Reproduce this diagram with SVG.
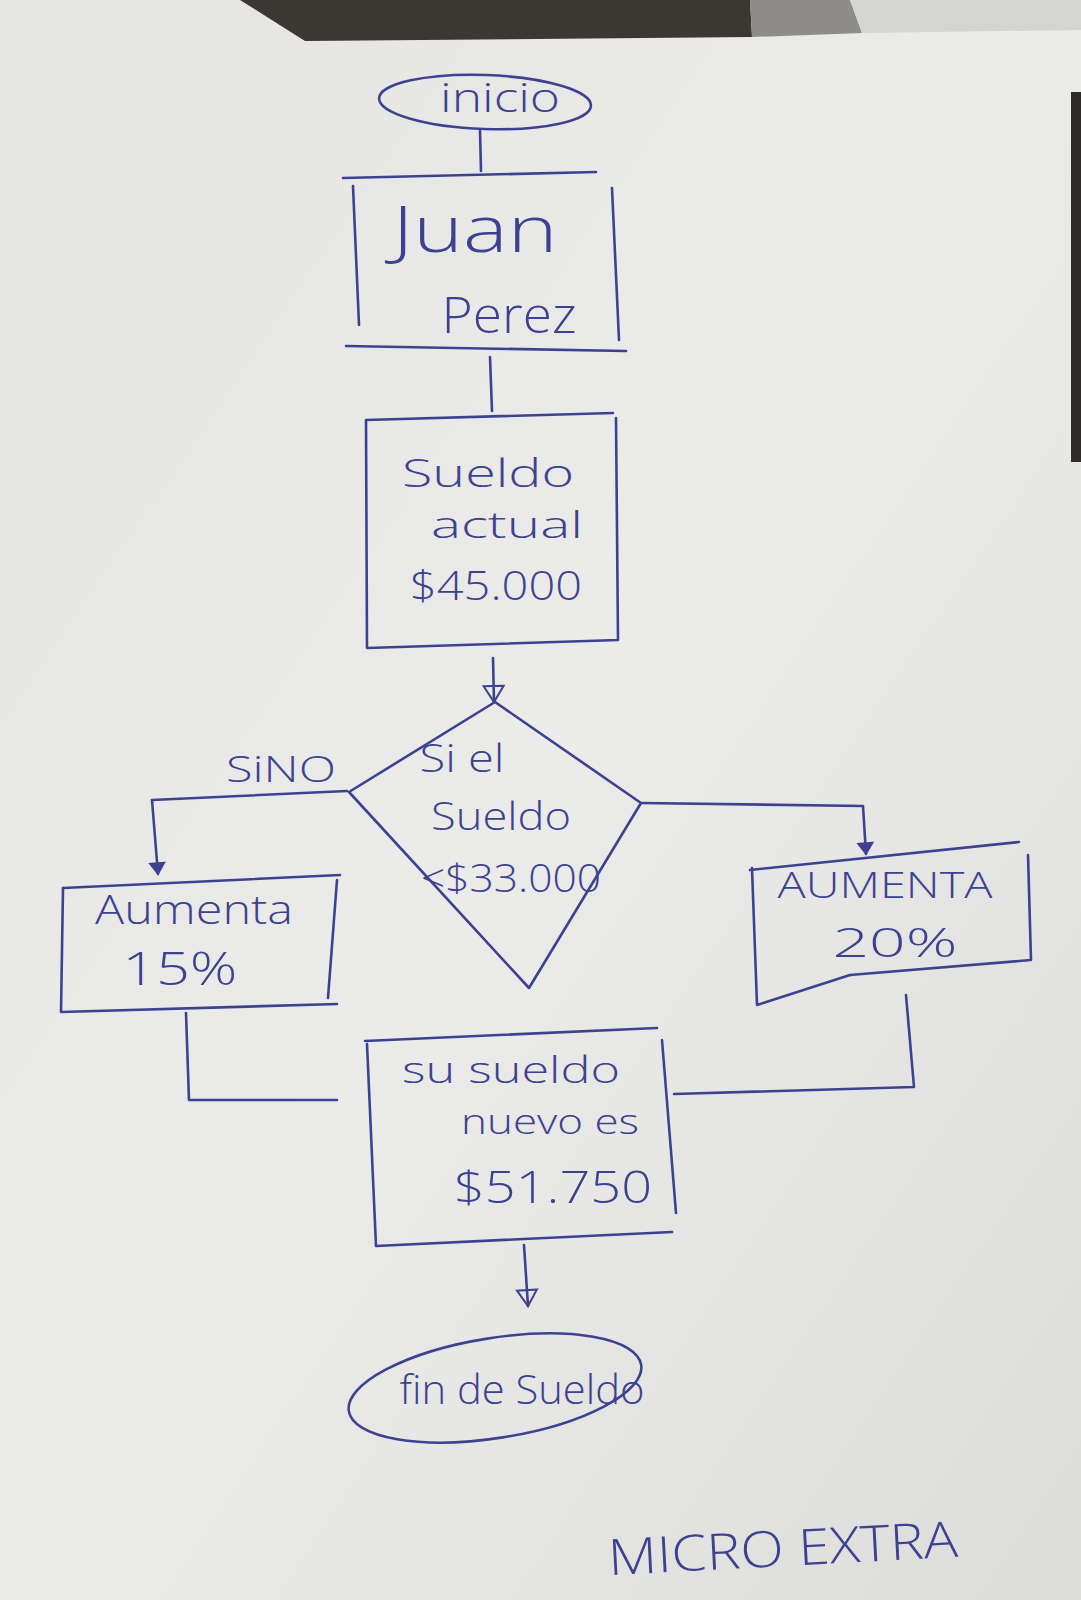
<svg xmlns="http://www.w3.org/2000/svg" width="1081" height="1600" viewBox="0 0 1081 1600">
  <defs>
    <linearGradient id="paper" x1="0" y1="0" x2="1" y2="1">
      <stop offset="0" stop-color="#e4e4e2"/>
      <stop offset="0.5" stop-color="#ebebe9"/>
      <stop offset="1" stop-color="#dcdcda"/>
    </linearGradient>
    <marker id="open" viewBox="0 0 20 24" refX="18" refY="12" markerWidth="20" markerHeight="24" markerUnits="userSpaceOnUse" orient="auto">
      <path d="M2,2 L2,22 L18,12 Z" fill="none" stroke="#3d4290" stroke-width="2"/>
    </marker>
    <marker id="solid" viewBox="0 0 20 20" refX="16" refY="10" markerWidth="18" markerHeight="18" markerUnits="userSpaceOnUse" orient="auto">
      <path d="M4,2 L4,18 L16,10 Z" fill="#3d4290" stroke="#3d4290" stroke-width="2"/>
    </marker>
  </defs>
  <style>
    .ink { fill: none; stroke: #3d4290; stroke-width: 2.6; stroke-linecap: round; stroke-linejoin: round; }
    .t { font-family: "Open Sans", "Liberation Sans", sans-serif; font-weight: 300; fill: #3d4290; text-anchor: middle; }
  </style>

  <!-- background photo -->
  <rect x="0" y="0" width="1081" height="1600" fill="url(#paper)"/>
  <polygon points="240,0 750,0 752,37 305,41" fill="#3b3733"/>
  <polygon points="750,0 850,0 862,33 752,37" fill="#8e8c8a"/>
  <polygon points="850,0 1081,0 1081,30 862,33" fill="#d4d4d2"/>
  <rect x="1071" y="92" width="10" height="370" fill="#2e2c2a"/>

  <!-- connectors -->
  <g id="connectors">
    <path class="ink" d="M480,131 L481,171"/>
    <path class="ink" d="M490,357 L492,411"/>
    <path class="ink" d="M493,658 L494,702" marker-end="url(#open)"/>
    <path class="ink" d="M347,791 L152,800 L158,874" marker-end="url(#solid)"/>
    <path class="ink" d="M641,803 L863,806 L866,854" marker-end="url(#solid)"/>
    <path class="ink" d="M186,1013 L189,1100 L337,1100"/>
    <path class="ink" d="M906,995 L914,1087 L674,1094"/>
    <path class="ink" d="M524,1245 L528,1306" marker-end="url(#open)"/>
  </g>

  <!-- nodes -->
  <g id="inicio">
    <ellipse class="ink" cx="485" cy="102" rx="106" ry="27" transform="rotate(2 485 102)"/>
    <text class="t" x="500" y="112" font-size="40" textLength="120" lengthAdjust="spacingAndGlyphs">inicio</text>
  </g>

  <g id="juan-perez">
    <path class="ink" d="M343,178 L596,172"/>
    <path class="ink" d="M353,186 L359,325"/>
    <path class="ink" d="M612,188 L619,340"/>
    <path class="ink" d="M346,346 L626,351"/>
    <text class="t" x="475" y="252" font-size="64" textLength="165" lengthAdjust="spacingAndGlyphs">Juan</text>
    <text class="t" x="509" y="333" font-size="50" textLength="135" lengthAdjust="spacingAndGlyphs">Perez</text>
  </g>

  <g id="sueldo-actual">
    <path class="ink" d="M366,420 L613,413 M616,418 L618,640 L367,648 L366,420"/>
    <text class="t" x="488" y="487" font-size="38" textLength="172" lengthAdjust="spacingAndGlyphs">Sueldo</text>
    <text class="t" x="507" y="538" font-size="36" textLength="152" lengthAdjust="spacingAndGlyphs">actual</text>
    <text class="t" x="496" y="600" font-size="40" textLength="172" lengthAdjust="spacingAndGlyphs">$45.000</text>
  </g>

  <g id="decision">
    <path class="ink" d="M495,702 L641,803 L529,988 L349,792 Z"/>
    <text class="t" x="462" y="772" font-size="38" textLength="85" lengthAdjust="spacingAndGlyphs">Si el</text>
    <text class="t" x="501" y="830" font-size="38" textLength="140" lengthAdjust="spacingAndGlyphs">Sueldo</text>
    <text class="t" x="511" y="892" font-size="38" textLength="180" lengthAdjust="spacingAndGlyphs">&lt;$33.000</text>
  </g>

  <g id="sino-label">
    <text class="t" x="281" y="782" font-size="36" textLength="110" lengthAdjust="spacingAndGlyphs">SiNO</text>
  </g>

  <g id="aumenta-15">
    <path class="ink" d="M63,888 L340,875"/>
    <path class="ink" d="M63,888 L61,1012 L337,1004"/>
    <path class="ink" d="M337,880 L328,998"/>
    <text class="t" x="194" y="924" font-size="40" textLength="198" lengthAdjust="spacingAndGlyphs">Aumenta</text>
    <text class="t" x="180" y="985" font-size="46" textLength="115" lengthAdjust="spacingAndGlyphs">15%</text>
  </g>

  <g id="aumenta-20">
    <path class="ink" d="M750,870 L1019,842"/>
    <path class="ink" d="M752,868 L757,1005 L850,975"/>
    <path class="ink" d="M850,975 L1031,960 L1028,855"/>
    <text class="t" x="885" y="898" font-size="36" textLength="215" lengthAdjust="spacingAndGlyphs">AUMENTA</text>
    <text class="t" x="895" y="957" font-size="40" textLength="125" lengthAdjust="spacingAndGlyphs">20%</text>
  </g>

  <g id="sueldo-nuevo">
    <path class="ink" d="M365,1041 L657,1028"/>
    <path class="ink" d="M367,1044 L376,1246 L672,1232"/>
    <path class="ink" d="M662,1040 L676,1213"/>
    <text class="t" x="511" y="1083" font-size="36" textLength="218" lengthAdjust="spacingAndGlyphs">su sueldo</text>
    <text class="t" x="550" y="1134" font-size="34" textLength="178" lengthAdjust="spacingAndGlyphs">nuevo es</text>
    <text class="t" x="553" y="1203" font-size="44" textLength="198" lengthAdjust="spacingAndGlyphs">$51.750</text>
  </g>

  <g id="fin">
    <ellipse class="ink" cx="495" cy="1388" rx="148" ry="50" transform="rotate(-9 495 1388)"/>
    <text class="t" x="522" y="1404" font-size="40" textLength="245" lengthAdjust="spacingAndGlyphs">fin de Sueldo</text>
  </g>

  <g id="micro-extra">
    <text class="t" x="783" y="1566" font-size="50" textLength="350" lengthAdjust="spacingAndGlyphs" transform="rotate(-3 783 1550)">MICRO EXTRA</text>
  </g>
</svg>
